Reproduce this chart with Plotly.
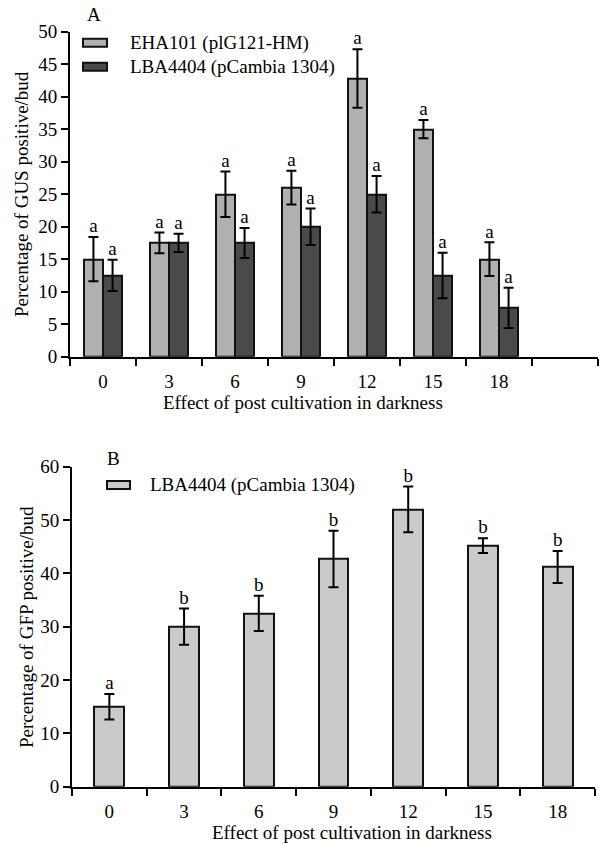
import plotly.graph_objects as go

# ---------------- data ----------------
cats_a = ["0", "3", "6", "9", "12", "15", "18"]
eha101 = [15, 17.5, 25, 26, 42.8, 35, 15]
eha101_err = [3.4, 1.6, 3.5, 2.6, 4.5, 1.4, 2.6]
lba_a = [12.5, 17.5, 17.5, 20, 25, 12.5, 7.5]
lba_a_err = [2.4, 1.4, 2.3, 2.8, 2.8, 3.5, 3.1]
letters_eha = ["a"] * 7
letters_lba = ["a"] * 7

cats_b = ["0", "3", "6", "9", "12", "15", "18"]
lba_b = [15, 30, 32.5, 42.7, 52, 45.2, 41.2]
lba_b_err = [2.4, 3.4, 3.3, 5.3, 4.3, 1.4, 3.0]
letters_b = ["a", "b", "b", "b", "b", "b", "b"]

name_eha = "EHA101 (plG121-HM)"
name_lba = "LBA4404 (pCambia 1304)"
xtitle = "Effect of post cultivation in darkness"
ytitle_a = "Percentage of GUS positive/bud"
ytitle_b = "Percentage of GFP positive/bud"

# ---------------- style ----------------
FONT = "Liberation Serif"
FS = 19
C_LIGHT = "#b0b0b0"
C_DARK = "#4a4a4a"
C_B = "#cacaca"
EDGE = "#111111"
W = 600
H = 844

fig = go.Figure()

xa = list(range(len(cats_a)))
bw_a = 0.29
err_style = dict(type="data", thickness=2, width=5, color="black")

fig.add_trace(go.Bar(x=xa, y=eha101, width=bw_a, offset=-bw_a,
                     marker=dict(color=C_LIGHT, line=dict(color=EDGE, width=2)),
                     error_y=dict(array=eha101_err, **err_style),
                     xaxis="x", yaxis="y", showlegend=False))
fig.add_trace(go.Bar(x=xa, y=lba_a, width=bw_a, offset=0,
                     marker=dict(color=C_DARK, line=dict(color=EDGE, width=2)),
                     error_y=dict(array=lba_a_err, **err_style),
                     xaxis="x", yaxis="y", showlegend=False))
# significance letters (top)
fig.add_trace(go.Scatter(x=[i - bw_a / 2 for i in xa],
                         y=[v + e for v, e in zip(eha101, eha101_err)],
                         mode="text", text=letters_eha, textposition="top center",
                         textfont=dict(family=FONT, size=FS, color="black"),
                         xaxis="x", yaxis="y", showlegend=False, hoverinfo="skip"))
fig.add_trace(go.Scatter(x=[i + bw_a / 2 for i in xa],
                         y=[v + e for v, e in zip(lba_a, lba_a_err)],
                         mode="text", text=letters_lba, textposition="top center",
                         textfont=dict(family=FONT, size=FS, color="black"),
                         xaxis="x", yaxis="y", showlegend=False, hoverinfo="skip"))

xb = list(range(len(cats_b)))
fig.add_trace(go.Bar(x=xb, y=lba_b, width=0.4,
                     marker=dict(color=C_B, line=dict(color=EDGE, width=2)),
                     error_y=dict(array=lba_b_err, **err_style),
                     xaxis="x2", yaxis="y2", showlegend=False))
fig.add_trace(go.Scatter(x=xb, y=[v + e for v, e in zip(lba_b, lba_b_err)],
                         mode="text", text=letters_b, textposition="top center",
                         textfont=dict(family=FONT, size=FS, color="black"),
                         xaxis="x2", yaxis="y2", showlegend=False, hoverinfo="skip"))

tickfont = dict(family=FONT, size=FS, color="black")

n_slots_a = len(cats_a) + 1  # one empty slot at the right
axis_common = dict(showline=True, linecolor="black", linewidth=2, showgrid=False,
                   zeroline=False, tickfont=tickfont, fixedrange=True,
                   automargin=False)

fig.update_layout(
    width=W, height=H, margin=dict(l=0, r=0, t=0, b=0),
    paper_bgcolor="white", plot_bgcolor="white",
    barmode="overlay", bargap=0,
    font=dict(family=FONT, size=FS, color="black"),
    xaxis=dict(domain=[70 / W, 598 / W], anchor="y",
               range=[-0.5, n_slots_a - 0.5],
               tickmode="array", tickvals=xa, ticktext=cats_a,
               ticks="outside", ticklen=6, tickcolor="rgba(0,0,0,0)", tickwidth=2,
               minor=dict(tickmode="array",
                          tickvals=[i - 0.5 for i in range(n_slots_a + 1)],
                          ticks="outside", ticklen=7, tickwidth=2, tickcolor="black"),
               **axis_common),
    yaxis=dict(domain=[1 - 356.7 / H, 1 - 31.7 / H], anchor="x",
               range=[0, 50], dtick=5, tick0=0,
               ticks="outside", ticklen=7, tickwidth=2, tickcolor="black",
               **axis_common),
    xaxis2=dict(domain=[72 / W, 595 / W], anchor="y2",
                range=[-0.5, len(cats_b) - 0.5],
                tickmode="array", tickvals=xb, ticktext=cats_b,
                ticks="outside", ticklen=6, tickcolor="rgba(0,0,0,0)", tickwidth=2,
                minor=dict(tickmode="array",
                           tickvals=[i - 0.5 for i in range(len(cats_b) + 1)],
                           ticks="outside", ticklen=7, tickwidth=2, tickcolor="black"),
                **axis_common),
    yaxis2=dict(domain=[1 - 786.7 / H, 1 - 466.7 / H], anchor="x2",
                range=[0, 60], dtick=10, tick0=0,
                ticks="outside", ticklen=7, tickwidth=2, tickcolor="black",
                **axis_common),
)

# ---------------- manual legends, titles & panel labels (paper coords) ----------------
def px_x(p):
    return p / W

def px_y(p):
    return 1 - p / H

shapes = []
annos = []
legend_items = [
    (name_eha, C_LIGHT, 83, 107, 42.7, 128),
    (name_lba, C_DARK, 83, 107, 66.7, 128),
    (name_lba, C_B, 107, 130, 485, 148),
]
for text, col, x0, x1, yc, tx in legend_items:
    shapes.append(dict(type="rect", xref="paper", yref="paper",
                       x0=px_x(x0), x1=px_x(x1), y0=px_y(yc + 4), y1=px_y(yc - 4),
                       fillcolor=col, line=dict(color=EDGE, width=2)))
    annos.append(dict(text=text, xref="paper", yref="paper", x=px_x(tx), y=px_y(yc),
                      xanchor="left", yanchor="middle", showarrow=False,
                      font=dict(family=FONT, size=FS, color="black")))

for lab, xc, yc in [("A", 94, 14), ("B", 113, 458)]:
    annos.append(dict(text=lab, xref="paper", yref="paper", x=px_x(xc), y=px_y(yc),
                      xanchor="center", yanchor="middle", showarrow=False,
                      font=dict(family=FONT, size=FS, color="black")))

# axis titles
for text, xc, yc in [(xtitle, 303, 402), (xtitle, 352, 832)]:
    annos.append(dict(text=text, xref="paper", yref="paper", x=px_x(xc), y=px_y(yc),
                      xanchor="center", yanchor="middle", showarrow=False,
                      font=dict(family=FONT, size=FS, color="black")))
for text, xc, yc in [(ytitle_a, 21, 194), (ytitle_b, 26, 627)]:
    annos.append(dict(text=text, xref="paper", yref="paper", x=px_x(xc), y=px_y(yc),
                      xanchor="center", yanchor="middle", showarrow=False, textangle=-90,
                      font=dict(family=FONT, size=FS, color="black")))

fig.update_layout(shapes=shapes, annotations=annos)

fig.write_html("out.html")
